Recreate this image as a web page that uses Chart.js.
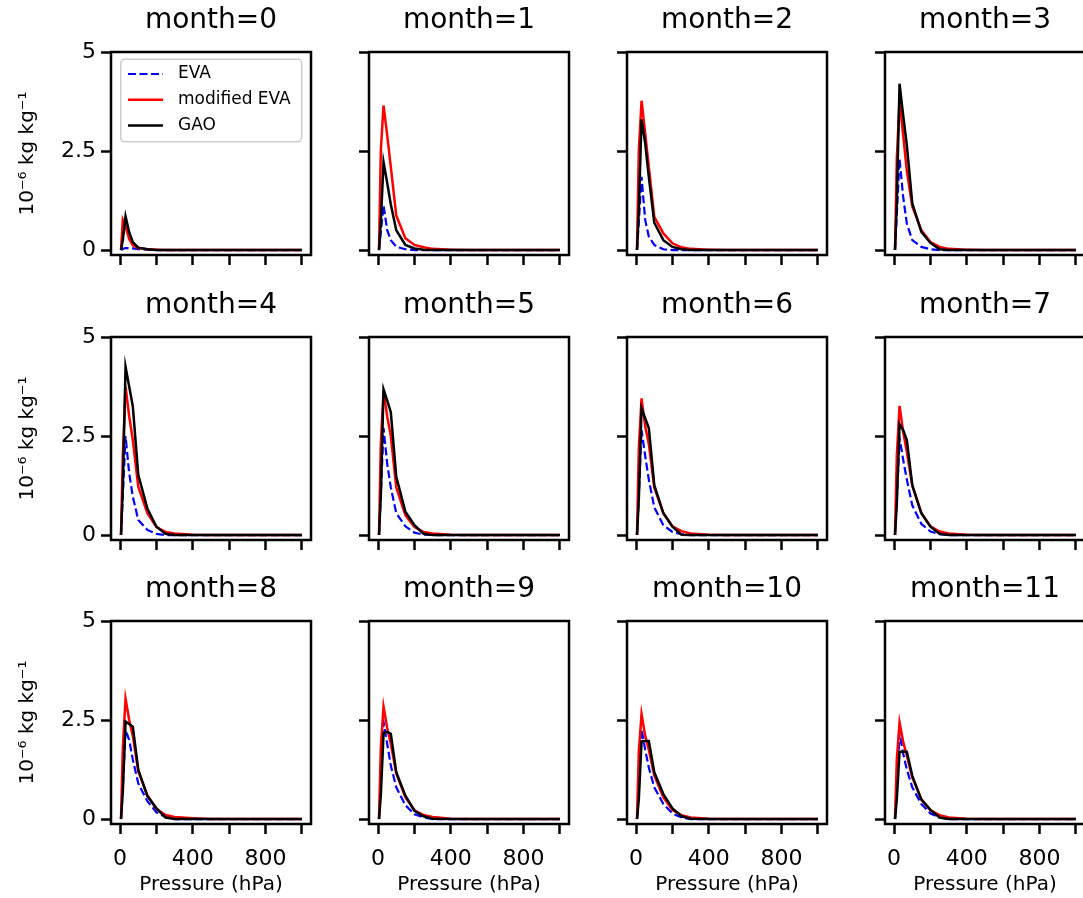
<!DOCTYPE html>
<html>
<head>
<meta charset="utf-8">
<script src="https://cdn.jsdelivr.net/npm/chart.js@4.4.1/dist/chart.umd.min.js"></script>
<style>
  html, body { margin: 0; padding: 0; background: #fff; overflow: hidden; }
  #grid { position: relative; width: 1083px; height: 898px; }
  #grid canvas { position: absolute; }
</style>
</head>
<body>
<div id="grid"></div>
<script>
// pressure levels (hPa) of the profiles
const levels = [5, 15, 30, 50, 70, 100, 150, 200, 250, 300, 400, 500, 600, 700, 850, 1000];

const months = [0, 1, 2, 3, 4, 5, 6, 7, 8, 9, 10, 11];

// mixing ratio, 1e-6 kg/kg, one row per month
const eva = [
  [0, 0.03, 0.05, 0.05, 0.04, 0.02, 0.01, 0, 0, 0, 0, 0, 0, 0, 0, 0],
  [0, 0.45, 1.13, 0.50, 0.25, 0.08, 0.02, 0, 0, 0, 0, 0, 0, 0, 0, 0],
  [0, 0.70, 1.85, 0.76, 0.34, 0.13, 0.02, 0, 0, 0, 0, 0, 0, 0, 0, 0],
  [0, 0.90, 2.30, 1.34, 0.67, 0.25, 0.08, 0.02, 0, 0, 0, 0, 0, 0, 0, 0],
  [0, 1.00, 2.50, 1.56, 0.97, 0.38, 0.13, 0.03, 0, 0, 0, 0, 0, 0, 0, 0],
  [0, 1.00, 2.70, 1.80, 1.20, 0.55, 0.22, 0.06, 0.01, 0, 0, 0, 0, 0, 0, 0],
  [0, 1.00, 2.65, 2.00, 1.40, 0.70, 0.25, 0.08, 0.02, 0, 0, 0, 0, 0, 0, 0],
  [0, 0.90, 2.45, 1.90, 1.40, 0.75, 0.28, 0.09, 0.02, 0, 0, 0, 0, 0, 0, 0],
  [0, 0.80, 2.25, 2.00, 1.50, 0.90, 0.45, 0.17, 0.05, 0, 0, 0, 0, 0, 0, 0],
  [0, 0.90, 2.44, 1.90, 1.35, 0.80, 0.35, 0.12, 0.04, 0, 0, 0, 0, 0, 0, 0],
  [0, 0.80, 2.27, 1.75, 1.30, 0.80, 0.38, 0.14, 0.04, 0, 0, 0, 0, 0, 0, 0],
  [0, 0.80, 2.18, 1.65, 1.25, 0.80, 0.38, 0.14, 0.04, 0, 0, 0, 0, 0, 0, 0]
];

const modifiedEva = [
  [0, 0.76, 0.60, 0.28, 0.12, 0.05, 0.02, 0.01, 0, 0, 0, 0, 0, 0, 0, 0],
  [0, 2.52, 3.65, 2.90, 2.10, 0.87, 0.30, 0.13, 0.07, 0.03, 0.01, 0, 0, 0, 0, 0],
  [0, 2.50, 3.77, 2.95, 2.10, 0.84, 0.42, 0.17, 0.07, 0.03, 0.01, 0, 0, 0, 0, 0],
  [0, 2.30, 3.78, 2.90, 2.00, 1.10, 0.50, 0.20, 0.08, 0.03, 0.01, 0, 0, 0, 0, 0],
  [0, 2.00, 3.75, 3.00, 2.40, 1.22, 0.55, 0.20, 0.08, 0.04, 0.01, 0, 0, 0, 0, 0],
  [0, 2.30, 3.65, 3.00, 2.50, 1.20, 0.50, 0.20, 0.08, 0.04, 0.01, 0, 0, 0, 0, 0],
  [0, 2.20, 3.45, 2.75, 2.30, 1.20, 0.55, 0.22, 0.10, 0.04, 0.01, 0, 0, 0, 0, 0],
  [0, 2.00, 3.26, 2.60, 2.10, 1.25, 0.55, 0.22, 0.09, 0.04, 0.01, 0, 0, 0, 0, 0],
  [0, 1.80, 3.04, 2.50, 2.10, 1.20, 0.60, 0.25, 0.10, 0.05, 0.02, 0, 0, 0, 0, 0],
  [0, 1.80, 2.84, 2.30, 1.90, 1.15, 0.55, 0.22, 0.10, 0.05, 0.01, 0, 0, 0, 0, 0],
  [0, 1.70, 2.65, 2.10, 1.75, 1.10, 0.55, 0.23, 0.10, 0.04, 0.01, 0, 0, 0, 0, 0],
  [0, 1.50, 2.44, 1.95, 1.60, 1.05, 0.50, 0.22, 0.10, 0.04, 0.01, 0, 0, 0, 0, 0]
];

const gao = [
  [0, 0.25, 0.85, 0.45, 0.20, 0.06, 0.02, 0, 0, 0, 0, 0, 0, 0, 0, 0],
  [0, 0.70, 2.22, 1.70, 1.15, 0.50, 0.13, 0.04, 0.01, 0, 0, 0, 0, 0, 0, 0],
  [0, 1.00, 3.30, 2.70, 1.85, 0.69, 0.25, 0.08, 0.02, 0, 0, 0, 0, 0, 0, 0],
  [0, 1.20, 4.20, 3.40, 2.65, 1.18, 0.46, 0.18, 0.02, 0, 0, 0, 0, 0, 0, 0],
  [0, 1.20, 4.25, 3.75, 3.25, 1.52, 0.67, 0.21, 0.03, 0, 0, 0, 0, 0, 0, 0],
  [0, 1.00, 3.68, 3.40, 3.10, 1.47, 0.59, 0.25, 0.03, 0, 0, 0, 0, 0, 0, 0],
  [0, 0.90, 3.20, 2.95, 2.70, 1.26, 0.55, 0.21, 0.01, 0, 0, 0, 0, 0, 0, 0],
  [0, 0.80, 2.80, 2.65, 2.40, 1.26, 0.55, 0.21, 0.03, 0, 0, 0, 0, 0, 0, 0],
  [0, 0.70, 2.46, 2.40, 2.33, 1.25, 0.58, 0.27, 0.04, 0, 0, 0, 0, 0, 0, 0],
  [0, 0.60, 2.17, 2.20, 2.15, 1.18, 0.59, 0.21, 0.07, 0.01, 0, 0, 0, 0, 0, 0],
  [0, 0.50, 1.96, 1.97, 1.97, 1.18, 0.63, 0.27, 0.07, 0.01, 0, 0, 0, 0, 0, 0],
  [0, 0.50, 1.70, 1.70, 1.70, 1.09, 0.49, 0.23, 0.04, 0, 0, 0, 0, 0, 0, 0]
];

const xTicks = [0, 200, 400, 600, 800, 1000];
const xLabelled = [0, 400, 800];
const yTicks = [0, 2.5, 5];

// layout of the 3x4 grid (px)
const colLeft = [111, 369, 627, 885];
const rowTop = [52, 337, 621];
const plotW = 200;
const plotH = 203;
const titleBand = 52;
const FONT = '"DejaVu Sans", "Liberation Sans", sans-serif';

// frame around the axes + the "month=N" heading
const panelFrame = {
  id: 'panelFrame',
  afterDraw(chart, args, opts) {
    const { ctx, chartArea: a } = chart;
    ctx.save();
    ctx.strokeStyle = '#000';
    ctx.lineWidth = 2.5;
    ctx.strokeRect(a.left, a.top, a.right - a.left, a.bottom - a.top);
    ctx.fillStyle = '#000';
    ctx.font = '28px ' + FONT;
    ctx.textAlign = 'center';
    ctx.textBaseline = 'alphabetic';
    ctx.fillText(opts.title, (a.left + a.right) / 2, a.top - 24);
    ctx.restore();
  }
};

// legend box drawn inside the first panel
const legendBox = {
  id: 'legendBox',
  afterDatasetsDraw(chart, args, opts) {
    if (!opts.show) return;
    const { ctx, chartArea: a } = chart;
    const x = a.left + 9.7, y = a.top + 7.3, w = 181, h = 82.5;
    ctx.save();
    ctx.beginPath();
    ctx.roundRect(x, y, w, h, 4);
    ctx.fillStyle = 'rgba(255,255,255,0.8)';
    ctx.fill();
    ctx.strokeStyle = '#cccccc';
    ctx.lineWidth = 1.5;
    ctx.stroke();
    chart.data.datasets.forEach((ds, i) => {
      const cy = y + 14.7 + i * 25.8;
      ctx.beginPath();
      ctx.setLineDash(ds.borderDash || []);
      ctx.strokeStyle = ds.borderColor;
      ctx.lineWidth = ds.borderWidth;
      ctx.moveTo(x + 7.3, cy);
      ctx.lineTo(x + 42.3, cy);
      ctx.stroke();
      ctx.setLineDash([]);
      ctx.fillStyle = '#000';
      ctx.font = '17px ' + FONT;
      ctx.textAlign = 'left';
      ctx.textBaseline = 'middle';
      ctx.fillText(ds.label, x + 57.3, cy);
    });
    ctx.restore();
  }
};

function toPoints(values) {
  return levels.map((p, i) => ({ x: p, y: values[i] }));
}

const grid = document.getElementById('grid');

months.forEach(m => {
  const col = m % 4;
  const row = Math.floor(m / 4);
  const firstCol = col === 0;
  const lastRow = row === 2;
  const yAxisW = firstCol ? 111 : 14;
  const xAxisH = lastRow ? 898 - (rowTop[row] + plotH) : 24;
  const padRight = 4;

  const canvas = document.createElement('canvas');
  canvas.width = yAxisW + plotW + padRight;
  canvas.height = titleBand + plotH + xAxisH;
  canvas.style.left = (colLeft[col] - yAxisW) + 'px';
  canvas.style.top = (rowTop[row] - titleBand) + 'px';
  grid.appendChild(canvas);

  new Chart(canvas.getContext('2d'), {
    type: 'line',
    data: {
      datasets: [
        {
          label: 'EVA',
          data: toPoints(eva[m]),
          borderColor: '#0000ff',
          borderWidth: 2.2,
          borderDash: [8, 3.5],
          order: 3
        },
        {
          label: 'modified EVA',
          data: toPoints(modifiedEva[m]),
          borderColor: '#ff0000',
          borderWidth: 2.5,
          order: 2
        },
        {
          label: 'GAO',
          data: toPoints(gao[m]),
          borderColor: '#000000',
          borderWidth: 2.5,
          order: 1
        }
      ]
    },
    options: {
      responsive: false,
      devicePixelRatio: 1,
      animation: false,
      events: [],
      layout: { padding: { top: titleBand, right: padRight, left: 0, bottom: 0 } },
      elements: { point: { radius: 0 }, line: { tension: 0 } },
      plugins: {
        legend: { display: false },
        tooltip: { enabled: false },
        panelFrame: { title: 'month=' + m },
        legendBox: { show: m === 0 }
      },
      scales: {
        x: {
          type: 'linear',
          min: -50,
          max: 1050,
          afterBuildTicks: s => { s.ticks = xTicks.map(v => ({ value: v })); },
          afterFit: s => { s.height = xAxisH; },
          grid: { drawOnChartArea: false, drawTicks: true, tickLength: 10, tickWidth: 2.5, tickColor: '#000' },
          border: { display: false },
          ticks: {
            display: lastRow,
            autoSkip: false,
            maxRotation: 0,
            padding: 12,
            color: '#000',
            font: { family: FONT, size: 22 },
            callback: v => xLabelled.includes(v) ? String(v) : ''
          },
          title: {
            display: lastRow,
            text: 'Pressure (hPa)',
            color: '#000',
            font: { family: FONT, size: 20 },
            padding: { top: 0, bottom: 1 }
          }
        },
        y: {
          type: 'linear',
          min: -0.125,
          max: 5,
          afterBuildTicks: s => { s.ticks = yTicks.map(v => ({ value: v })); },
          afterFit: s => { s.width = yAxisW; },
          grid: { drawOnChartArea: false, drawTicks: true, tickLength: 10, tickWidth: 2.5, tickColor: '#000' },
          border: { display: false },
          ticks: {
            display: firstCol,
            padding: 5,
            color: '#000',
            font: { family: FONT, size: 22 },
            callback: v => String(v)
          },
          title: {
            display: firstCol,
            text: '10⁻⁶ kg kg⁻¹',
            color: '#000',
            font: { family: FONT, size: 20 },
            padding: { top: 16, bottom: 0 }
          }
        }
      }
    },
    plugins: [panelFrame, legendBox]
  });
});
</script>
</body>
</html>
